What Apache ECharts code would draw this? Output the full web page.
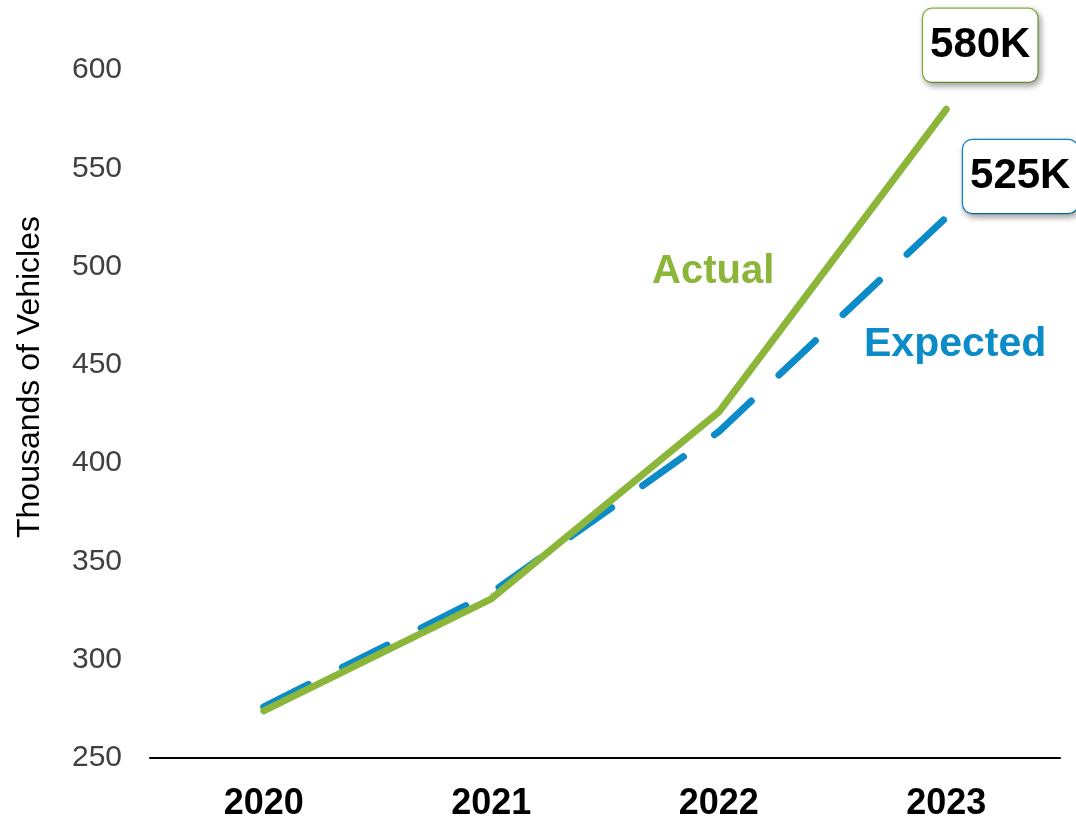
<!DOCTYPE html>
<html>
<head>
<meta charset="utf-8">
<script src="https://cdn.jsdelivr.net/npm/echarts@6/dist/echarts.min.js"></script>
<style>html,body{margin:0;padding:0;background:#fff;}#c{width:1076px;height:821px;}</style>
</head>
<body>
<div id="c"></div>
<script>
const years = ['2020', '2021', '2022', '2023'];
const actual = [274, 331, 426, 580];
const expected = [276, 334, 416, 525];
const yTicks = { min: 250, max: 600, interval: 50 };
const actualLabel = '580K';
const expectedLabel = '525K';

const GREEN = '#8BB63A';
const BLUE = '#0B8BC8';
const sans = '"Liberation Sans", Arial, sans-serif';

const chart = echarts.init(document.getElementById('c'));

function lastLabel(arr, text, color, offset) {
  return arr.map((v, i) => i === arr.length - 1 ? {
    value: v,
    label: {
      show: true, formatter: text, position: 'inside', offset: offset,
      fontFamily: sans, fontWeight: 'bold', fontSize: 42, color: '#000',
      backgroundColor: '#fff', borderColor: color, borderWidth: 1.2, borderRadius: 9,
      padding: [18, 7, 13, 7],
      shadowColor: 'rgba(0,0,0,0.35)', shadowBlur: 6, shadowOffsetX: 2, shadowOffsetY: 3
    }
  } : v);
}

chart.setOption({
  animation: false,
  grid: { left: 150, right: 16, top: 70, bottom: 63, containLabel: false, outerBoundsMode: 'none' },
  xAxis: {
    type: 'category', data: years, boundaryGap: true,
    axisLine: { lineStyle: { color: '#000', width: 2 } },
    axisTick: { show: false },
    axisLabel: { fontFamily: sans, fontWeight: 'bold', fontSize: 36, color: '#000', margin: 28 }
  },
  yAxis: {
    type: 'value', min: yTicks.min, max: yTicks.max, interval: yTicks.interval,
    name: 'Thousands of Vehicles', nameLocation: 'middle', nameGap: 104, nameRotate: 90,
    nameTextStyle: { fontFamily: sans, fontSize: 32, color: '#000', padding: [0, 0, 0, 74] },
    axisLine: { show: false }, axisTick: { show: false }, splitLine: { show: false },
    axisLabel: { fontFamily: sans, fontSize: 30, color: '#404040', margin: 28, align: 'right' }
  },
  graphic: [
    { type: 'text', x: 652, y: 272, style: { text: 'Actual', fill: GREEN, font: 'bold 40px ' + sans, textVerticalAlign: 'middle' } },
    { type: 'text', x: 864, y: 345, style: { text: 'Expected', fill: BLUE, font: 'bold 41px ' + sans, textVerticalAlign: 'middle' } }
  ],
  series: [
    {
      name: 'Expected', type: 'line', data: lastLabel(expected, expectedLabel, BLUE, [74, -41]),
      symbol: 'circle', symbolSize: 1, showSymbol: true, z: 2,
      itemStyle: { color: BLUE },
      lineStyle: { color: BLUE, width: 7, type: [50, 38], cap: 'round' }
    },
    {
      name: 'Actual', type: 'line', data: lastLabel(actual, actualLabel, GREEN, [34, -64]),
      symbol: 'circle', symbolSize: 1, showSymbol: true, z: 3,
      itemStyle: { color: GREEN },
      lineStyle: { color: GREEN, width: 7, cap: 'round' }
    }
  ]
});
</script>
</body>
</html>
